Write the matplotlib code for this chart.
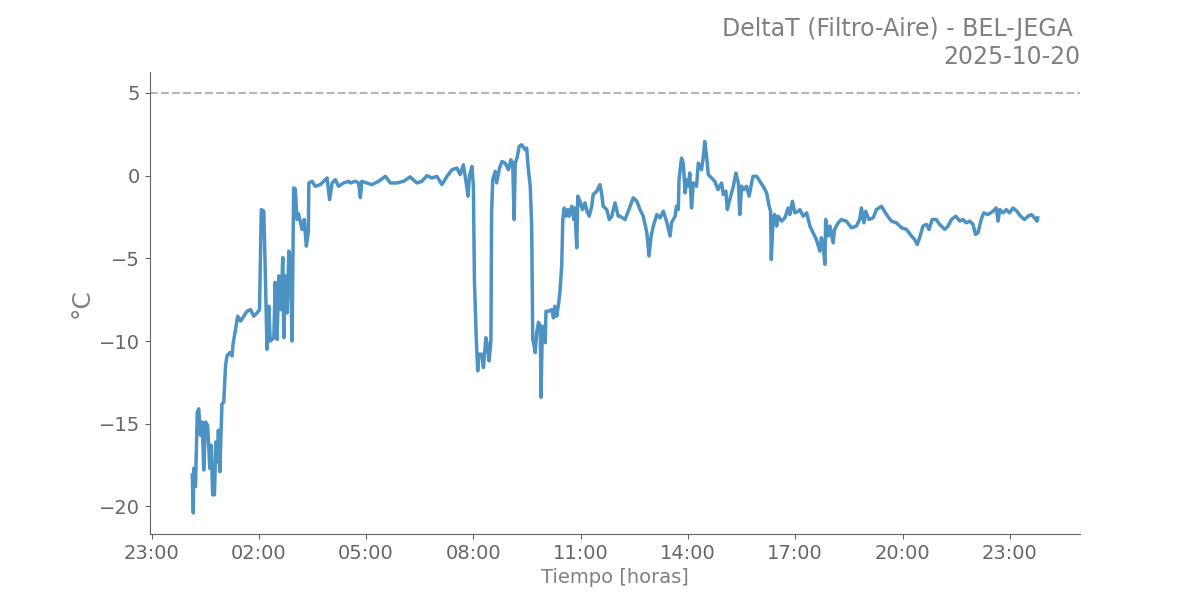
import datetime as dt
import matplotlib
matplotlib.use("Agg")
import matplotlib.pyplot as plt
import matplotlib.dates as mdates

# hours since 2025-10-20 00:00 and DeltaT (Filtro-Aire) in °C
hours = [0.14, 0.17, 0.18, 0.23, 0.28, 0.32, 0.37, 0.42, 0.46, 0.51, 0.57, 0.63, 0.67, 0.71, 0.76,
         0.80, 0.84, 0.87, 0.91, 0.95, 0.97, 1.02, 1.07, 1.11, 1.19, 1.25, 1.28, 1.35, 1.41, 1.49,
         1.58, 1.67, 1.77, 1.86, 1.95, 2.02, 2.07, 2.14, 2.18, 2.23, 2.28, 2.32, 2.42, 2.46, 2.51,
         2.56, 2.62, 2.67, 2.70, 2.74, 2.79, 2.84, 2.88, 2.93, 2.975, 3.02, 3.07, 3.11, 3.21, 3.27,
         3.33, 3.385, 3.40, 3.49, 3.58, 3.72, 3.91, 3.98, 4.05, 4.14, 4.23, 4.37, 4.51, 4.56, 4.70,
         4.79, 4.84, 4.88, 5.02, 5.16, 5.35, 5.54, 5.68, 5.86, 6.05, 6.23, 6.42, 6.56, 6.70, 6.84,
         6.98, 7.12, 7.26, 7.40, 7.54, 7.63, 7.72, 7.80, 7.85, 7.89, 7.96, 8.00, 8.03, 8.08, 8.12,
         8.16, 8.24, 8.28, 8.35, 8.39, 8.44, 8.49, 8.51, 8.54, 8.61, 8.65, 8.73, 8.80, 8.89, 8.98,
         9.05, 9.10, 9.14, 9.17, 9.23, 9.28, 9.35, 9.45, 9.49, 9.53, 9.59, 9.63, 9.66, 9.70, 9.73,
         9.77, 9.82, 9.87, 9.89, 9.93, 9.98, 10.01, 10.03, 10.10, 10.19, 10.24, 10.28, 10.33, 10.38, 10.42,
         10.47, 10.50, 10.54, 10.59, 10.64, 10.68, 10.75, 10.81, 10.84, 10.89, 10.92, 10.98, 11.05, 11.12, 11.18,
         11.24, 11.31, 11.35, 11.45, 11.54, 11.59, 11.63, 11.73, 11.80, 11.87, 11.96, 12.05, 12.10, 12.24, 12.33,
         12.47, 12.57, 12.66, 12.75, 12.85, 12.91, 12.97, 13.03, 13.13, 13.22, 13.31, 13.40, 13.50, 13.54, 13.64,
         13.68, 13.73, 13.75, 13.82, 13.87, 13.92, 13.96, 14.01, 14.05, 14.10, 14.15, 14.24, 14.29, 14.38, 14.43,
         14.47, 14.52, 14.57, 14.66, 14.75, 14.84, 14.94, 14.99, 15.06, 15.10, 15.17, 15.27, 15.34, 15.41, 15.45,
         15.50, 15.56, 15.64, 15.71, 15.78, 15.82, 15.92, 16.01, 16.10, 16.20, 16.27, 16.31, 16.33, 16.38, 16.42,
         16.48, 16.52, 16.62, 16.71, 16.80, 16.85, 16.92, 16.99, 17.08, 17.13, 17.22, 17.32, 17.41, 17.50, 17.59,
         17.69, 17.73, 17.78, 17.83, 17.85, 17.92, 17.97, 18.06, 18.10, 18.20, 18.29, 18.43, 18.57, 18.71, 18.80,
         18.85, 18.92, 18.97, 19.06, 19.18, 19.27, 19.41, 19.55, 19.69, 19.83, 19.97, 20.11, 20.25, 20.34, 20.41,
         20.48, 20.57, 20.67, 20.74, 20.83, 20.94, 21.04, 21.18, 21.27, 21.37, 21.49, 21.60, 21.69, 21.78, 21.88,
         21.97, 22.04, 22.11, 22.20, 22.27, 22.39, 22.53, 22.62, 22.67, 22.72, 22.81, 22.90, 22.99, 23.09, 23.20,
         23.30, 23.41, 23.51, 23.60, 23.69, 23.76, 23.78]
delta_t = [-18.1, -20.4, -17.7, -18.8, -14.3, -14.1, -15.7, -14.9, -17.8, -14.9, -15.1, -17.7, -16.3, -19.3, -19.3,
           -16.1, -17.3, -15.4, -17.9, -15.1, -13.8, -13.7, -11.5, -10.9, -10.7, -10.9, -10.2, -9.3, -8.5, -8.8,
           -8.5, -8.2, -8.1, -8.5, -8.3, -8.1, -2.05, -2.15, -5.7, -10.5, -7.9, -10.0, -9.8, -6.45, -9.9,
           -6.06, -8.1, -4.96, -9.8, -6.06, -8.3, -4.56, -5.1, -10.0, -0.74, -0.8, -2.65, -2.3, -3.25, -2.65,
           -4.26, -3.4, -0.44, -0.34, -0.64, -0.54, -0.14, -1.45, -0.44, -0.24, -0.64, -0.44, -0.34, -0.44, -0.34,
           -0.44, -1.33, -0.34, -0.44, -0.54, -0.34, -0.04, -0.44, -0.44, -0.34, -0.07, -0.44, -0.34, 0.0, -0.14,
           -0.04, -0.54, -0.04, 0.36, 0.46, 0.06, 0.66, -0.44, -1.24, -0.04, 0.56, -0.64, -6.4, -9.8, -11.8,
           -10.8, -10.8, -11.6, -9.8, -10.2, -11.2, -10.0, -2.2, -0.24, 0.26, -0.44, 0.46, 0.86, 0.76, 0.36,
           0.96, 0.76, -2.65, 0.76, 1.16, 1.77, 1.87, 1.57, 1.67, 0.56, -0.64, -3.05, -9.9, -10.3, -10.7,
           -9.5, -8.87, -9.1, -13.4, -9.1, -9.5, -10.1, -8.2, -8.2, -8.1, -8.6, -7.9, -8.5, -7.8, -7.05,
           -5.45, -2.65, -1.95, -2.45, -2.05, -2.45, -1.85, -2.65, -1.95, -4.36, -1.24, -1.54, -2.05, -1.64, -2.15,
           -2.45, -1.85, -1.14, -0.94, -0.54, -1.14, -1.85, -2.05, -2.65, -2.45, -1.64, -2.45, -2.45, -2.65, -2.15,
           -1.34, -1.54, -2.05, -2.45, -3.45, -4.86, -3.65, -3.05, -2.35, -2.55, -2.15, -2.75, -3.65, -2.85, -2.45,
           -1.85, -2.05, -0.24, 1.06, 0.76, -1.04, -0.24, -0.64, 0.16, -1.95, -0.44, -0.64, 0.76, 0.36, 1.16,
           2.07, 1.16, 0.06, -0.14, -0.34, -0.84, -0.44, -1.14, -0.94, -2.05, -1.44, -0.64, 0.16, -0.44, -2.35,
           -0.64, -0.84, -0.64, -1.24, -0.44, -0.04, -0.04, -0.34, -0.64, -1.04, -1.85, -2.15, -5.06, -2.65, -2.35,
           -3.05, -2.45, -2.75, -2.55, -1.95, -2.35, -1.55, -2.25, -2.15, -2.05, -2.45, -2.25, -3.05, -3.45, -3.86,
           -4.56, -3.75, -4.26, -5.36, -2.65, -3.65, -3.05, -4.06, -3.25, -2.85, -2.65, -2.75, -3.15, -3.05, -2.65,
           -1.95, -2.85, -2.15, -2.65, -2.55, -2.05, -1.85, -2.35, -2.75, -2.85, -3.15, -3.25, -3.65, -3.86, -4.16,
           -3.75, -3.05, -2.95, -3.25, -2.65, -2.65, -2.95, -3.25, -3.05, -2.65, -2.45, -2.75, -2.65, -2.85, -2.75,
           -2.95, -3.55, -3.45, -2.65, -2.25, -2.35, -2.15, -1.95, -2.75, -2.05, -2.25, -2.05, -2.25, -1.95, -2.15,
           -2.45, -2.65, -2.45, -2.35, -2.55, -2.75, -2.55]

limite = 5
fecha = dt.datetime(2025, 10, 20)
tiempo = [fecha + dt.timedelta(hours=h) for h in hours]

GRIS = '#666666'

fig, ax = plt.subplots(figsize=(12, 6), dpi=100)
ax.plot(tiempo, delta_t, color='#1f77b4', alpha=0.8, linewidth=2.5)
ax.axhline(limite, color='#b5b5b5', linestyle='--', linewidth=1.5)

ax.xaxis.set_major_locator(mdates.HourLocator(byhour=[23, 2, 5, 8, 11, 14, 17, 20]))
ax.xaxis.set_major_formatter(mdates.DateFormatter('%H:%M'))

ax.set_title('DeltaT (Filtro-Aire) - BEL-JEGA \n2025-10-20', loc='right', fontsize=17, color='#808080')
ax.set_xlabel('Tiempo [horas]', fontsize=14, color='#808080')
ax.set_ylabel('°C', fontsize=18, color='#808080')

for s in ['top', 'right']:
    ax.spines[s].set_visible(False)
for s in ['left', 'bottom']:
    ax.spines[s].set_color(GRIS)
ax.tick_params(colors=GRIS, labelsize=14)

plt.savefig('out.png')
